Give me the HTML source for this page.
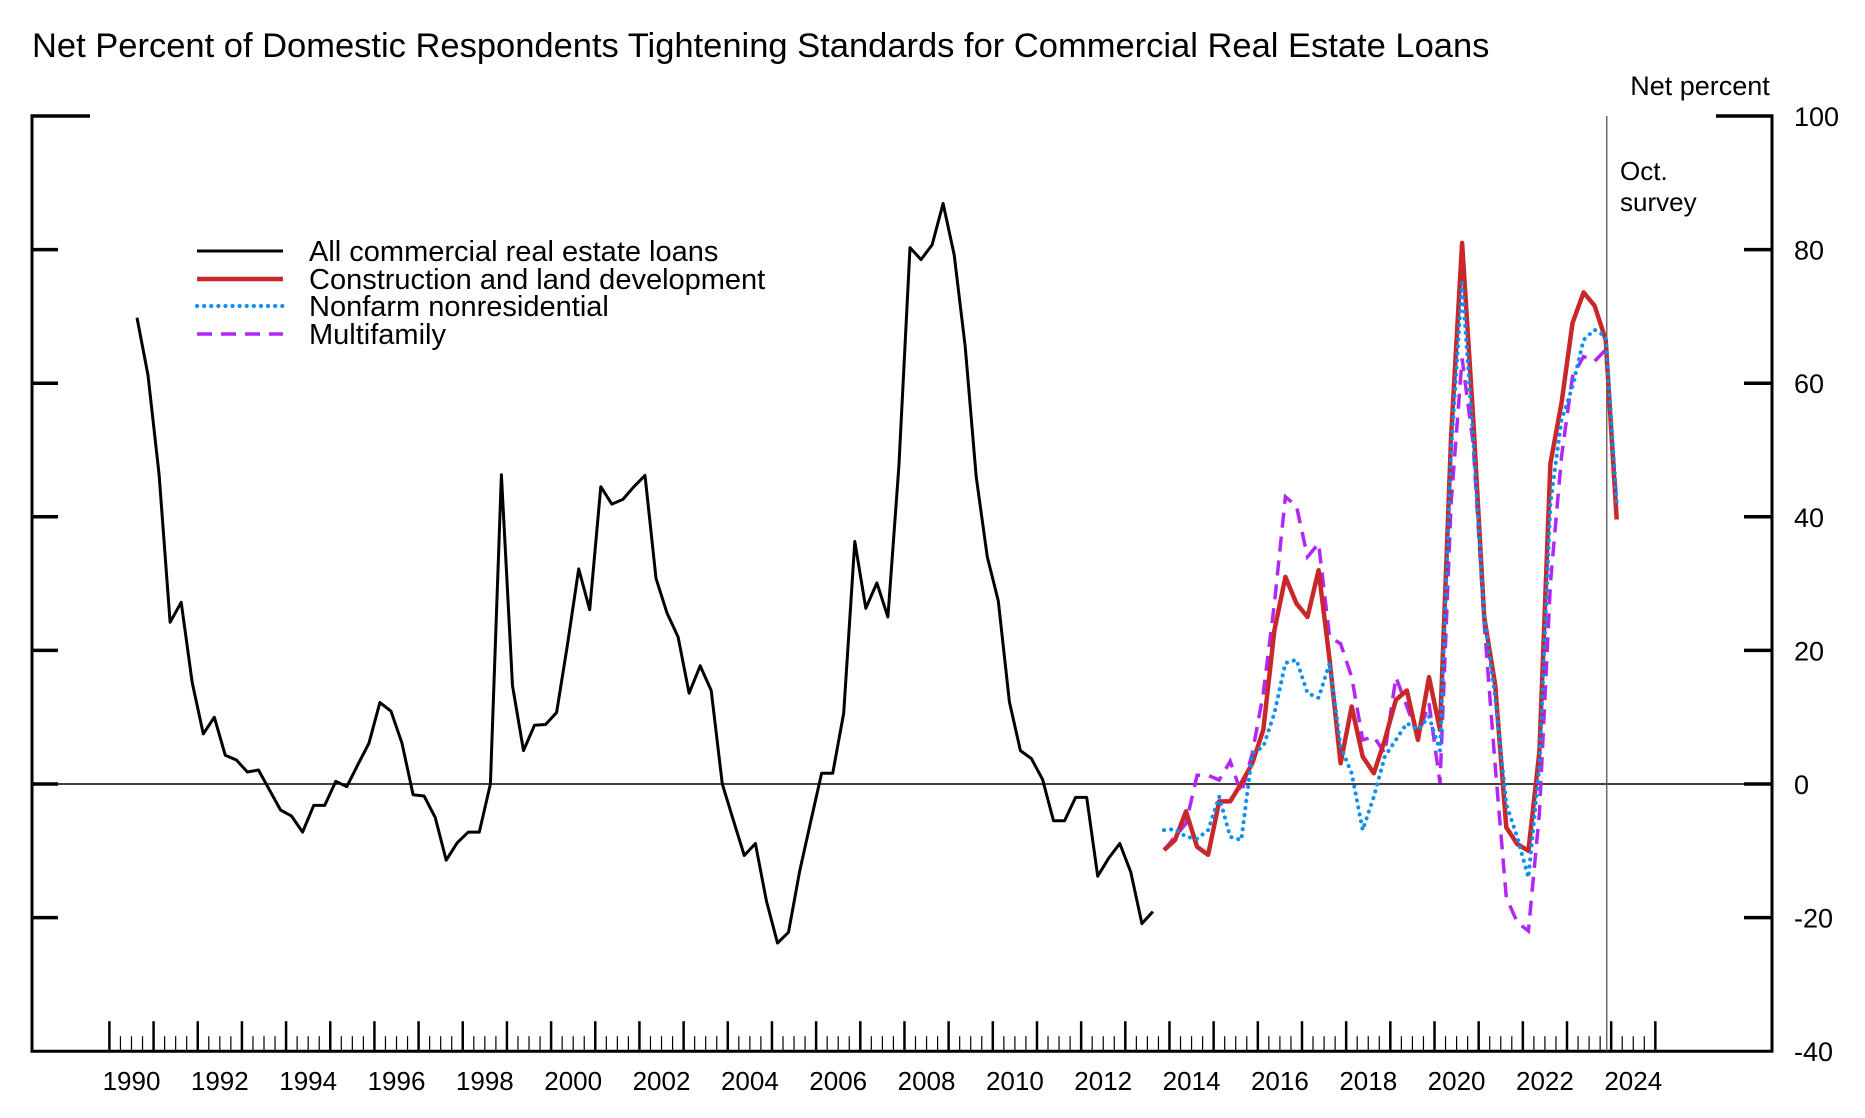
<!DOCTYPE html>
<html><head><meta charset="utf-8"><style>
html,body{margin:0;padding:0;background:#fff;}
svg{display:block;font-family:"Liberation Sans",Arial,sans-serif;}
</style></head><body>
<svg id="chart" width="1865" height="1118" viewBox="0 0 1865 1118" xmlns="http://www.w3.org/2000/svg">
<text x="32" y="57" font-size="34.5" fill="#000">Net Percent of Domestic Respondents Tightening Standards for Commercial Real Estate Loans</text>
<text x="1700" y="95" font-size="27" text-anchor="middle" fill="#000">Net percent</text>
<text x="1620" y="180" font-size="26" fill="#000">Oct.</text>
<text x="1620" y="211" font-size="26" fill="#000">survey</text>
<g id="axes"></g>
<g id="series"></g>
<g>
<g><line x1="197" y1="251" x2="283" y2="251" stroke="#000" stroke-width="3"/><text x="309" y="261" font-size="29">All commercial real estate loans</text></g>
<g><line x1="197" y1="279" x2="283" y2="279" stroke="#c8282a" stroke-width="4.5"/><text x="309" y="289" font-size="29">Construction and land development</text></g>
<g><line x1="197" y1="306" x2="283" y2="306" stroke="#0a8ff5" stroke-width="4" stroke-dasharray="0.1 7" stroke-linecap="round"/><text x="309" y="316" font-size="29">Nonfarm nonresidential</text></g>
<g><line x1="197" y1="334" x2="283" y2="334" stroke="#b227f5" stroke-width="3.5" stroke-dasharray="15 9"/><text x="309" y="344" font-size="29">Multifamily</text></g>
</g>
</svg>
<script>
const startYear = 1990.625;
const coloredStartIndex = 93;
const allCRE = [69.8,61.2,46.3,24.2,27.2,15.2,7.5,10,4.3,3.6,1.8,2.1,-0.9,-3.9,-4.8,-7.2,-3.2,-3.2,0.4,-0.4,2.9,6.1,12.2,10.9,6.1,-1.6,-1.8,-5,-11.4,-8.8,-7.2,-7.2,0,46.3,14.7,5,8.8,8.9,10.7,21.1,32.2,26.1,44.5,41.9,42.6,44.5,46.2,30.8,25.6,22,13.6,17.7,14,0,-5.4,-10.7,-8.9,-17.5,-23.8,-22.2,-13.1,-5.7,1.6,1.6,10.6,36.3,26.3,30.1,25,47.6,80.3,78.5,80.7,86.9,79.2,65.5,46,34,27.4,12.3,5,3.8,0.7,-5.5,-5.5,-2,-2,-13.8,-11.1,-8.9,-13.2,-20.9,-19.1];
const construction = [-9.9,-8.4,-4.1,-9.4,-10.6,-2.6,-2.6,0.1,3.1,8.1,23,31,27,25,32,18.6,3.1,11.6,4.1,1.6,6.6,12.6,14,6.6,16,8.1,52,81,55,25,14.8,-6.5,-9,-10,4.8,48,57,69,73.6,71.6,66.5,39.6];
const nonfarm = [-6.9,-6.75,-7.9,-8.2,-6.9,-1.9,-7.9,-8.4,4.6,5.6,10.6,18.1,18.6,13.6,12.9,18.1,5.6,1.6,-6.9,-1.9,4.1,6.6,9.1,8.1,10.1,5,50,75,52,25,13,-3,-8,-14,2.7,42,54.5,59.5,66.5,68,67,42];
const multifamily = [-9.9,-7.9,-5.9,1.3,1.3,0.6,3.4,-1.4,4.6,13.6,27,43,41.6,34,36,22,21,16,6.6,7.1,4.6,16,11.6,7.1,12.1,0.1,42,63.7,51,24,2.7,-17,-20.7,-22,-4.4,30,49,61,64,63.3,65,42];
const yTicks = [100,80,60,40,20,0,-20,-40];
const xLabelYears = [1990,1992,1994,1996,1998,2000,2002,2004,2006,2008,2010,2012,2014,2016,2018,2020,2022,2024];
const octSurveyYear = 2023.9;

const NS = "http://www.w3.org/2000/svg";
const X0 = 109.4, PXY = 44.17, YTOP = 116, PXU = 6.68;
function xScale(t){ return X0 + (t - 1990) * PXY; }
function yScale(v){ return YTOP + (100 - v) * PXU; }
function mk(tag, attrs, parent){ const e = document.createElementNS(NS, tag); for (const k in attrs) e.setAttribute(k, attrs[k]); parent.appendChild(e); return e; }
const axes = document.getElementById('axes');
const series = document.getElementById('series');
const L = 32, R = 1772, B = yScale(-40);

let e;
e = mk('line', {x1:L, y1:YTOP, x2:L, y2:B, stroke:'#000', 'stroke-width':3}, axes);


e = mk('line', {x1:R, y1:YTOP, x2:R, y2:B, stroke:'#000', 'stroke-width':3}, axes);


e = mk('line', {x1:L-1.5, y1:B, x2:R+1.5, y2:B, stroke:'#000', 'stroke-width':3}, axes);


e = mk('line', {x1:L, y1:yScale(0), x2:R, y2:yScale(0), stroke:'#000', 'stroke-width':1.5}, axes);


e = mk('line', {x1:xScale(octSurveyYear), y1:YTOP, x2:xScale(octSurveyYear), y2:B, stroke:'#555', 'stroke-width':1.3}, axes);



yTicks.forEach(v => {
  const y = yScale(v);
  const lenL = v === 100 ? 58 : 26, lenR = v === 100 ? 56 : 28;
  if (v !== -40) {
    e = mk('line', {x1:L-1.5, y1:y, x2:L+lenL, y2:y, stroke:'#000', 'stroke-width':3.5}, axes);
    
    
    e = mk('line', {x1:R-lenR, y1:y, x2:R+1.5, y2:y, stroke:'#000', 'stroke-width':3.5}, axes);
    
    
  }
  e = mk('text', {x:1794, y:y+10, 'font-size':27, fill:'#000'}, axes);
  e.textContent = String(v);
  
  
});

for (let q = 0; q <= 35*4; q++) {
  const t = 1990 + q/4;
  const major = q % 4 === 0;
  e = mk('line', {x1:xScale(t), y1:B, x2:xScale(t), y2:B - (major ? 30 : 15), stroke:'#000', 'stroke-width': major ? 2.5 : 1.2}, axes);
  
  
}
xLabelYears.forEach(yr => {
  e = mk('text', {x:xScale(yr + 0.5), y:1090, 'font-size':26, 'text-anchor':'middle', fill:'#000'}, axes);
  e.textContent = String(yr);
  
  
});

function pathFor(vals, offset){
  return vals.map((v,i) => (i ? 'L' : 'M') + xScale(startYear + (offset + i)/4).toFixed(1) + ' ' + yScale(v).toFixed(1)).join(' ');
}
e = mk('path', {d:pathFor(multifamily, coloredStartIndex), fill:'none', stroke:'#b227f5', 'stroke-width':3.5, 'stroke-dasharray':'15 9'}, series);


e = mk('path', {d:pathFor(construction, coloredStartIndex), fill:'none', stroke:'#c8282a', 'stroke-width':4.5, 'stroke-linejoin':'round'}, series);


e = mk('path', {d:pathFor(nonfarm, coloredStartIndex), fill:'none', stroke:'#0a8ff5', 'stroke-width':4, 'stroke-dasharray':'0.1 7', 'stroke-linecap':'round'}, series);


e = mk('path', {d:pathFor(allCRE, 0), fill:'none', stroke:'#000', 'stroke-width':3, 'stroke-linejoin':'round'}, series);


</script>
</body></html>
